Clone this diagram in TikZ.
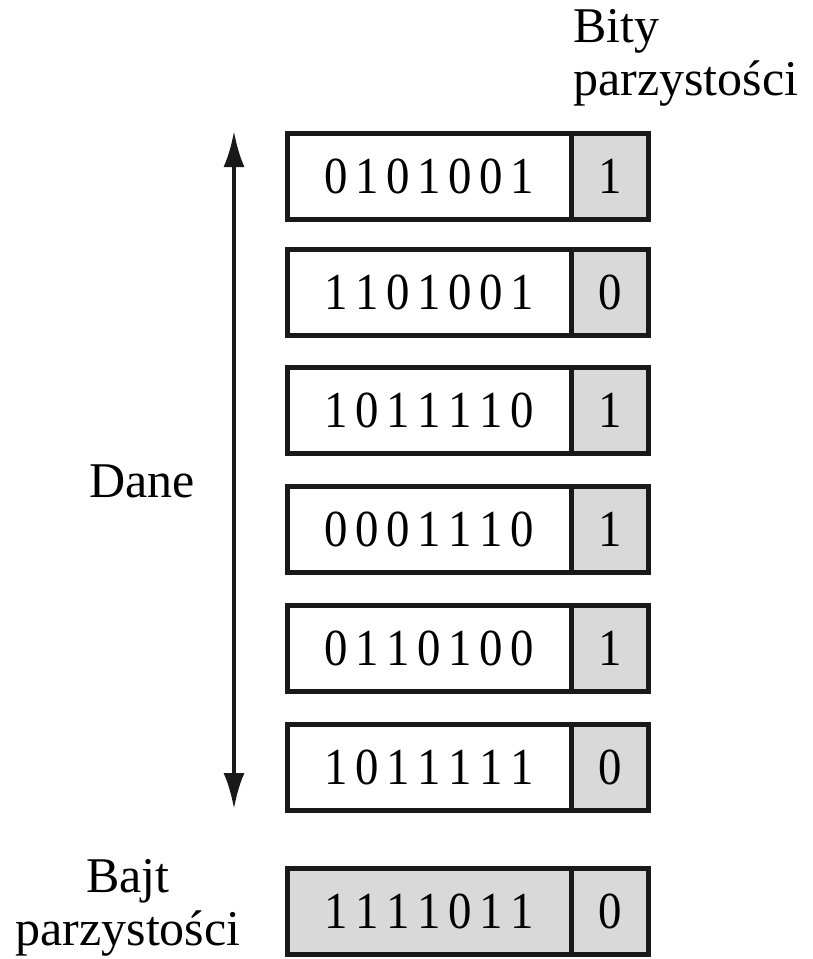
\documentclass[tikz,border=0pt]{standalone}
\usepackage{fontspec}
\setmainfont{Liberation Serif}
\newfontfamily\digitfont[FakeStretch=0.9]{Liberation Serif}
\usetikzlibrary{arrows.meta}
\definecolor{cellgray}{RGB}{217,217,217}
\newcommand\dk{\kern7.5pt}
\begin{document}
\begin{tikzpicture}[x=1pt,y=-1pt,
  databox/.style={draw=black!90,line width=4.5pt,fill=white,minimum width=284pt,minimum height=86pt,inner sep=0pt,anchor=north west,font=\digitfont\fontsize{52}{60}\selectfont},
  bytebox/.style={databox,fill=cellgray},
  paritybox/.style={draw=black!90,line width=4.5pt,fill=cellgray,minimum width=77pt,minimum height=86pt,inner sep=0pt,anchor=north west,font=\digitfont\fontsize{52}{60}\selectfont},
  lbl/.style={inner sep=0pt,font=\fontsize{50}{53}\selectfont},
  dblarrow/.style={{Latex[length=36pt,width=21pt]}-{Latex[length=36pt,width=21pt]},line width=4pt,draw=black!90}]
\useasboundingbox (0,0) rectangle (813,959);
% rows
\node[databox] (d1) at (285,131) {0\dk1\dk0\dk1\dk0\dk0\dk1};
\node[paritybox] (p1) at (569,131) {1};
\node[databox] (d2) at (285,247) {1\dk1\dk0\dk1\dk0\dk0\dk1};
\node[paritybox] (p2) at (569,247) {0};
\node[databox] (d3) at (285,365) {1\dk0\dk1\dk1\dk1\dk1\dk0};
\node[paritybox] (p3) at (569,365) {1};
\node[databox] (d4) at (285,484) {0\dk0\dk0\dk1\dk1\dk1\dk0};
\node[paritybox] (p4) at (569,484) {1};
\node[databox] (d5) at (285,603) {0\dk1\dk1\dk0\dk1\dk0\dk0};
\node[paritybox] (p5) at (569,603) {1};
\node[databox] (d6) at (285,722) {1\dk0\dk1\dk1\dk1\dk1\dk1};
\node[paritybox] (p6) at (569,722) {0};
\node[bytebox] (b) at (285,866) {1\dk1\dk1\dk1\dk0\dk1\dk1};
\node[paritybox] (pb) at (569,866) {0};
% arrow
\coordinate (atop) at (234,131);
\coordinate (abot) at (234,809);
\draw[dblarrow] (atop) -- (abot);
% labels
\node[lbl,anchor=base] (dane) at (142,497) {Dane};
\node[lbl,anchor=north west,align=left] (bity) at (573,9) {Bity\\parzystości};
\node[lbl,anchor=north,align=center] (bajt) at (128,859) {Bajt\\parzystości};
\end{tikzpicture}
\end{document}
